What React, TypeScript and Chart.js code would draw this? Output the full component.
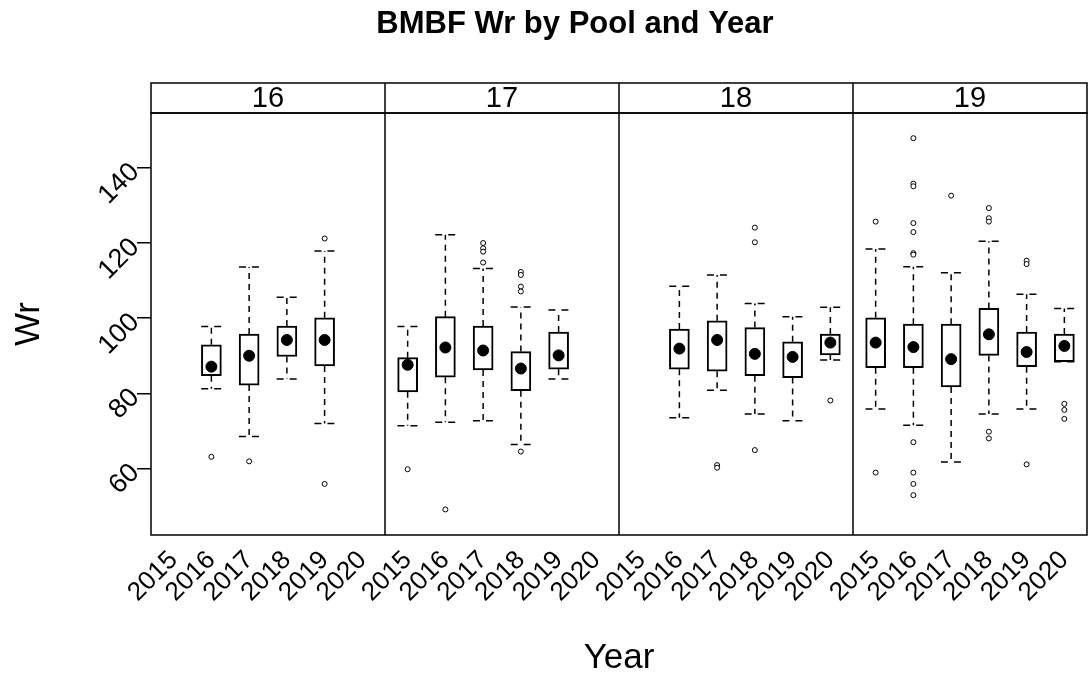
import React, { useEffect, useRef } from 'react';
import { Chart, registerables } from 'chart.js';

Chart.register(...registerables);

const pools = ['16', '17', '18', '19'];
const years = ['2015', '2016', '2017', '2018', '2019', '2020'];
const yTicks = [60, 80, 100, 120, 140];

// one entry per box
const boxPool = [0, 0, 0, 0, 1, 1, 1, 1, 1, 2, 2, 2, 2, 2, 3, 3, 3, 3, 3, 3];
const boxYear = [1, 2, 3, 4, 0, 1, 2, 3, 4, 1, 2, 3, 4, 5, 0, 1, 2, 3, 4, 5];
const whiskerLow = [81.2, 68.5, 83.8, 72.0, 71.4, 72.3, 72.7, 66.4, 83.8, 73.5, 80.8, 74.5, 72.7, 88.9, 75.8, 71.5, 61.7, 74.5, 75.8, 88.4];
const q1 = [84.7, 82.2, 89.8, 87.3, 80.4, 84.3, 86.2, 80.7, 86.4, 86.4, 85.9, 84.7, 84.2, 90.2, 86.8, 86.8, 81.7, 90.1, 87.1, 88.4];
const median = [87.1, 90.0, 94.2, 94.2, 87.6, 92.2, 91.4, 86.6, 90.1, 91.9, 94.2, 90.5, 89.7, 93.5, 93.5, 92.3, 89.1, 95.7, 91.0, 92.6];
const q3 = [92.9, 95.8, 97.9, 100.1, 89.5, 100.4, 97.9, 91.1, 96.3, 97.1, 99.3, 97.5, 93.7, 95.8, 100.1, 98.4, 98.4, 102.6, 96.3, 95.8];
const whiskerHigh = [97.8, 113.6, 105.6, 117.9, 97.8, 122.2, 113.2, 103.0, 102.2, 108.5, 111.5, 103.9, 100.4, 102.9, 118.4, 113.7, 112.1, 120.5, 106.4, 102.6];
const outliers: number[][] = [
  [63.1], [61.9], [], [121.2, 55.9],
  [59.8], [49.1], [120.0, 118.6, 117.7, 114.8], [112.3, 111.5, 108.4, 107.1, 64.5], [],
  [], [60.9, 60.2], [124.1, 120.2, 64.9], [], [78.1],
  [125.7, 58.9], [147.9, 135.8, 135.1, 125.3, 122.9, 117.3, 116.9, 67.0, 58.9, 55.9, 52.9], [132.6],
  [129.3, 126.6, 125.7, 69.8, 68.0], [115.3, 114.4, 61.1], [77.2, 75.6, 73.2],
];

const PANEL_SPAN = 6.2;
const X_PAD = 0.6;
const CAP_HALF = 0.27;
const xOf = (p: number, yi: number) => p * PANEL_SPAN + yi + 1;
const FONT = '"Liberation Sans", Arial, sans-serif';

const panelPlugin = {
  id: 'panels',
  afterDraw(chart: any) {
    const { ctx, chartArea } = chart;
    const xs = chart.scales.x;
    const { left, right, top, bottom } = chartArea;
    const stripH = 30;
    ctx.save();
    ctx.strokeStyle = '#000';
    ctx.lineWidth = 1.5;
    ctx.strokeRect(left, top, right - left, bottom - top);
    ctx.strokeRect(left, top - stripH, right - left, stripH);
    pools.forEach((name, p) => {
      const x0 = xs.getPixelForValue(p * PANEL_SPAN + 1 - X_PAD);
      const x1 = xs.getPixelForValue(p * PANEL_SPAN + 6 + X_PAD);
      if (p > 0) {
        ctx.beginPath();
        ctx.moveTo(x0, top - stripH);
        ctx.lineTo(x0, bottom);
        ctx.stroke();
      }
      ctx.fillStyle = '#000';
      ctx.font = `29px ${FONT}`;
      ctx.textAlign = 'center';
      ctx.textBaseline = 'middle';
      ctx.fillText(name, (x0 + x1) / 2, top - stripH / 2 + 1);
    });
    ctx.font = `bold 31px ${FONT}`;
    ctx.textAlign = 'center';
    ctx.textBaseline = 'middle';
    ctx.fillText('BMBF Wr by Pool and Year', 575, 24);
    ctx.restore();
  },
};

export default function App() {
  const ref = useRef<HTMLCanvasElement>(null);
  useEffect(() => {
    if (!ref.current) return;
    Chart.defaults.color = '#000';
    Chart.defaults.font.family = FONT;

    const whiskerPts: any[] = [];
    const capPts: any[] = [];
    const boxPts: any[] = [];
    const medPts: any[] = [];
    const outPts: any[] = [];
    boxPool.forEach((p, k) => {
      const x = xOf(p, boxYear[k]);
      whiskerPts.push({ x, y: q3[k] }, { x, y: whiskerHigh[k] }, { x, y: null });
      whiskerPts.push({ x, y: q1[k] }, { x, y: whiskerLow[k] }, { x, y: null });
      capPts.push({ x: x - CAP_HALF, y: whiskerHigh[k] }, { x: x + CAP_HALF, y: whiskerHigh[k] }, { x, y: null });
      capPts.push({ x: x - CAP_HALF, y: whiskerLow[k] }, { x: x + CAP_HALF, y: whiskerLow[k] }, { x, y: null });
      boxPts.push({ x, y: [q1[k], q3[k]] });
      medPts.push({ x, y: median[k] });
      outliers[k].forEach((v) => outPts.push({ x, y: v }));
    });

    const xTickValues = pools.flatMap((_, p) => years.map((__, i) => xOf(p, i)));

    const chart = new Chart(ref.current, {
      type: 'bar',
      data: {
        datasets: [
          {
            type: 'scatter',
            data: outPts,
            order: 0,
            pointRadius: 2.5,
            pointBackgroundColor: '#fff',
            pointBorderColor: '#000',
            pointBorderWidth: 1,
          } as any,
          {
            type: 'scatter',
            data: medPts,
            order: 1,
            pointRadius: 5.5,
            pointBackgroundColor: '#000',
            pointBorderColor: '#000',
            pointBorderWidth: 1,
          } as any,
          {
            type: 'bar',
            data: boxPts,
            order: 2,
            backgroundColor: '#fff',
            borderColor: '#000',
            borderWidth: 2,
            borderSkipped: false,
            barThickness: 20,
          } as any,
          {
            type: 'scatter',
            data: whiskerPts,
            order: 3,
            showLine: true,
            spanGaps: false,
            borderColor: '#000',
            borderWidth: 1.5,
            borderDash: [6, 5],
            pointRadius: 0,
          } as any,
          {
            type: 'scatter',
            data: capPts,
            order: 3,
            showLine: true,
            spanGaps: false,
            borderColor: '#000',
            borderWidth: 1.5,
            borderDash: [7, 6],
            pointRadius: 0,
          } as any,
        ],
      },
      options: {
        responsive: false,
        animation: false,
        events: [],
        layout: { autoPadding: false, padding: { top: 113, right: 2, left: 0, bottom: 0 } },
        plugins: { legend: { display: false }, tooltip: { enabled: false }, title: { display: false } },
        scales: {
          x: {
            type: 'linear',
            offset: false,
            min: 1 - X_PAD,
            max: (pools.length - 1) * PANEL_SPAN + 6 + X_PAD,
            grid: { display: false, offset: false },
            border: { display: false },
            afterBuildTicks: (s: any) => {
              s.ticks = xTickValues.map((v) => ({ value: v }));
            },
            afterFit: (s: any) => {
              s.height = 141;
              s.paddingLeft = 0;
              s.paddingRight = 0;
            },
            ticks: {
              autoSkip: false,
              minRotation: 45,
              maxRotation: 45,
              padding: 2,
              font: { size: 26 },
              color: '#000',
              callback: (_v: any, i: number) => years[i % years.length],
            },
            title: {
              display: true,
              text: 'Year',
              font: { size: 35, lineHeight: 1 },
              padding: { top: 0, bottom: 0 },
              color: '#000',
            },
          },
          y: {
            type: 'linear',
            min: 42.3,
            max: 154.6,
            grid: { drawOnChartArea: false, drawTicks: true, tickLength: 14, color: '#000', lineWidth: 1.5 },
            border: { display: false },
            afterBuildTicks: (s: any) => {
              s.ticks = yTicks.map((v) => ({ value: v }));
            },
            afterFit: (s: any) => {
              s.width = 151;
              s.paddingTop = 0;
              s.paddingBottom = 0;
            },
            ticks: {
              minRotation: 45,
              maxRotation: 45,
              padding: 2,
              font: { size: 27 },
              color: '#000',
            },
            title: {
              display: true,
              text: 'Wr',
              font: { size: 35, lineHeight: 1 },
              padding: { top: 12, bottom: 0 },
              color: '#000',
            },
          },
        },
      },
      plugins: [panelPlugin],
    });
    return () => chart.destroy();
  }, []);
  return (
    <div style={{ position: 'absolute', left: 0, top: 0, width: 1089, height: 676, background: '#fff' }}>
      <canvas ref={ref} width={1089} height={676} />
    </div>
  );
}
